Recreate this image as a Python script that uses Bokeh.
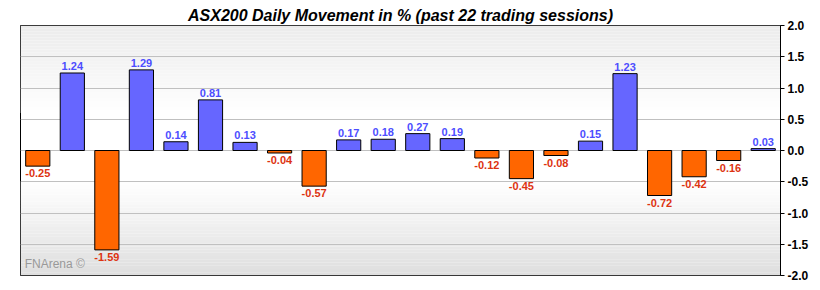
import numpy as np
from bokeh.plotting import figure
from bokeh.models import ColumnDataSource, Range1d, FixedTicker, NumeralTickFormatter, Label
from bokeh.core.properties import value
from bokeh.embed import file_html
from bokeh.resources import INLINE

# ---- data ----
sessions = list(range(1, 23))
moves = [-0.25, 1.24, -1.59, 1.29, 0.14, 0.81, 0.13, -0.04, -0.57, 0.17, 0.18,
         0.27, 0.19, -0.12, -0.45, -0.08, 0.15, 1.23, -0.72, -0.42, -0.16, 0.03]
y_ticks = [-2.0, -1.5, -1.0, -0.5, 0.0, 0.5, 1.0, 1.5, 2.0]
title_text = "ASX200 Daily Movement in % (past 22 trading sessions)"
watermark = "FNArena \u00a9"

FONT = "Liberation Sans"
POS_BAR, NEG_BAR = "#6666ff", "#ff6600"
POS_TXT, NEG_TXT = "#4d4dff", "#dd3311"

n = len(moves)
xs = [i - 0.5 for i in sessions]
pos = [v >= 0 for v in moves]
src = ColumnDataSource(dict(
    x=xs, top=moves,
    fill=[POS_BAR if p_ else NEG_BAR for p_ in pos],
))
src_pos = ColumnDataSource(dict(x=[x for x, p_ in zip(xs, pos) if p_],
                                y=[v for v, p_ in zip(moves, pos) if p_],
                                t=["%.2f" % v for v, p_ in zip(moves, pos) if p_]))
src_neg = ColumnDataSource(dict(x=[x for x, p_ in zip(xs, pos) if not p_],
                                y=[v for v, p_ in zip(moves, pos) if not p_],
                                t=["%.2f" % v for v, p_ in zip(moves, pos) if not p_]))

p = figure(width=820, height=290, output_backend="svg", toolbar_location=None,
           x_range=Range1d(0, n), y_range=Range1d(y_ticks[0], y_ticks[-1]),
           y_axis_location="right",
           min_border_left=20, min_border_right=40, min_border_top=25, min_border_bottom=15)
p.title.text = title_text
p.title.align = "center"
p.title.text_font = FONT
p.title.text_font_size = "16px"
p.title.text_font_style = "bold italic"
p.title.text_color = "#000000"
p.title.standoff = 3
p.title.offset = 0

p.background_fill_color = "#ffffff"
p.border_fill_color = "#ffffff"
p.outline_line_color = "#000000"
p.outline_line_width = 1
p.outline_line_alpha = 1

# background gradient strips
strips_b, strips_t, strips_c = [], [], []
top_edges = np.linspace(2.0, 0.6, 30)
for a, b in zip(top_edges[:-1], top_edges[1:]):
    f = (2.0 - (a + b) / 2) / 1.4
    g = int(round(235 + (255 - 235) * f))
    strips_b.append(b); strips_t.append(a); strips_c.append("#%02x%02x%02x" % (g, g, g))
bot_edges = np.linspace(-0.5, -2.0, 30)
for a, b in zip(bot_edges[:-1], bot_edges[1:]):
    f = (-0.5 - (a + b) / 2) / 1.5
    g = int(round(255 - (255 - 222) * f))
    strips_b.append(b); strips_t.append(a); strips_c.append("#%02x%02x%02x" % (g, g, g))
bg = p.quad(left=0, right=n, bottom=strips_b, top=strips_t, fill_color=strips_c, line_color=None)
bg.level = "image"

p.xaxis.visible = False
p.xgrid.visible = False
p.ygrid.ticker = FixedTicker(ticks=y_ticks)
p.ygrid.grid_line_color = "#c0c0c0"
p.ygrid.grid_line_width = 1

ax = p.yaxis[0]
ax.ticker = FixedTicker(ticks=y_ticks)
ax.formatter = NumeralTickFormatter(format="0.0")
ax.major_label_text_font = FONT
ax.major_label_text_font_size = "12px"
ax.major_label_text_font_style = "bold"
ax.major_label_text_color = "#000000"
ax.major_tick_in = 0
ax.major_tick_out = 4
ax.major_tick_line_color = "#000000"
ax.minor_tick_line_color = None
ax.axis_line_color = "#000000"
ax.major_label_standoff = 3

p.vbar(x="x", top="top", bottom=0, width=0.7, source=src,
       fill_color="fill", line_color="#000000", line_width=1)

p.text(x="x", y="y", text="t", source=src_pos, text_align="center", text_baseline="bottom",
       y_offset=-3, text_font=value(FONT), text_font_size="11px", text_font_style="bold",
       text_color=POS_TXT)
p.text(x="x", y="y", text="t", source=src_neg, text_align="center", text_baseline="top",
       y_offset=3, text_font=value(FONT), text_font_size="11px", text_font_style="bold",
       text_color=NEG_TXT)

p.add_layout(Label(x=0.12, y=-1.81, text=watermark, text_font=FONT, text_font_size="12px",
                   text_color="#999999", text_baseline="alphabetic"))

open("out.html", "w").write(file_html(p, INLINE))
